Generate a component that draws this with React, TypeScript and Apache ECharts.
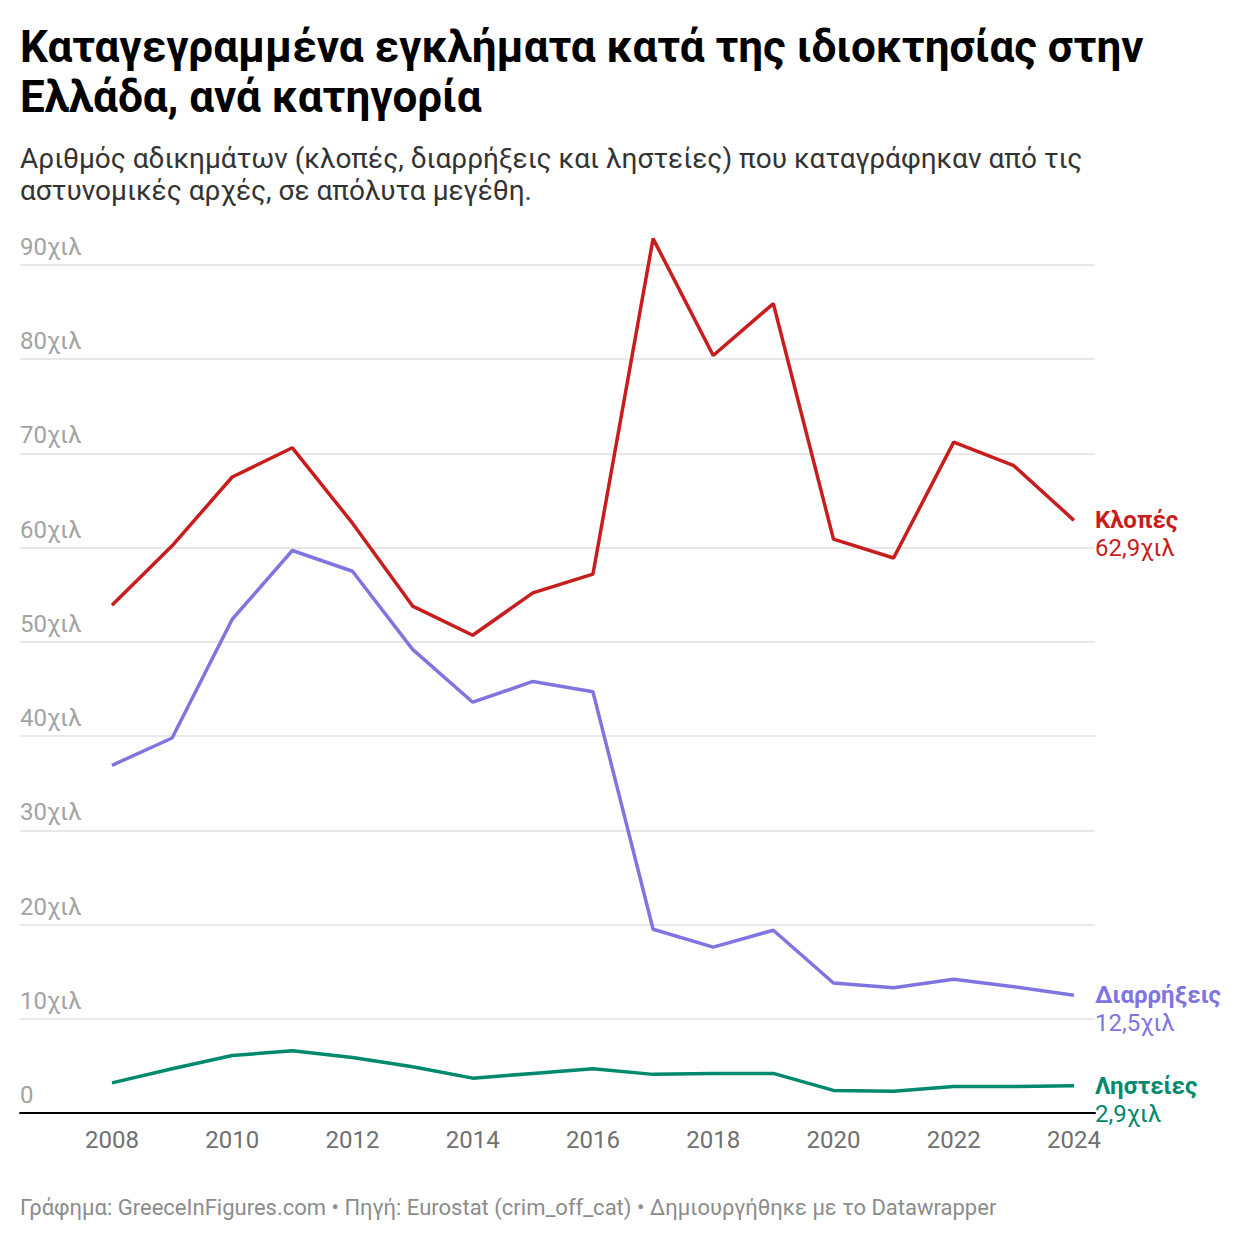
import React, { useEffect, useRef } from "react";
import * as echarts from "echarts";

const years = [2008, 2009, 2010, 2011, 2012, 2013, 2014, 2015, 2016, 2017, 2018, 2019, 2020, 2021, 2022, 2023, 2024];
const theft = [53.9, 60.2, 67.5, 70.6, 62.6, 53.8, 50.7, 55.2, 57.2, 92.8, 80.4, 85.9, 60.9, 58.9, 71.2, 68.7, 62.9];
const burglary = [36.9, 39.8, 52.4, 59.7, 57.5, 49.2, 43.6, 45.8, 44.7, 19.5, 17.6, 19.4, 13.8, 13.3, 14.2, 13.4, 12.5];
const robbery = [3.2, 4.7, 6.1, 6.6, 5.9, 4.9, 3.7, 4.2, 4.7, 4.1, 4.2, 4.2, 2.4, 2.3, 2.8, 2.8, 2.9];
const xTickYears = [2008, 2010, 2012, 2014, 2016, 2018, 2020, 2022, 2024];
const seriesNames = ["Κλοπές", "Διαρρήξεις", "Ληστείες"];
const seriesColors = ["#c71e1d", "#8075e0", "#00896d"];
const endValues = ["62,9χιλ", "12,5χιλ", "2,9χιλ"];

const titleText = "Καταγεγραμμένα εγκλήματα κατά της ιδιοκτησίας στην\nΕλλάδα, ανά κατηγορία";
const subtitleText = "Αριθμός αδικημάτων (κλοπές, διαρρήξεις και ληστείες) που καταγράφηκαν από τις\nαστυνομικές αρχές, σε απόλυτα μεγέθη.";
const footerText = "Γράφημα: GreeceInFigures.com • Πηγή: Eurostat (crim_off_cat) • Δημιουργήθηκε με το Datawrapper";

const FONT = "Roboto";

export default function App() {
  const ref = useRef<HTMLDivElement>(null);
  useEffect(() => {
    if (!ref.current) return;
    const chart = echarts.init(ref.current, undefined, { renderer: "svg" });
    const datasets = [theft, burglary, robbery];
    chart.setOption({
      animation: false,
      backgroundColor: "#ffffff",
      textStyle: { fontFamily: FONT },
      title: [
        {
          text: titleText,
          left: 20,
          top: 22,
          padding: 0,
          textStyle: { fontFamily: FONT, fontSize: 44, fontWeight: "bold", lineHeight: 50, color: "#000000" },
        },
        {
          text: subtitleText,
          left: 20,
          top: 142,
          padding: 0,
          textStyle: { fontFamily: FONT, fontSize: 28, fontWeight: "normal", lineHeight: 32, color: "#333333" },
        },
        {
          text: footerText,
          left: 20,
          top: 1195,
          padding: 0,
          textStyle: { fontFamily: FONT, fontSize: 22, fontWeight: "normal", lineHeight: 24, color: "#8c8c8c" },
        },
      ],
      grid: { left: 20, right: 145, top: 265, bottom: 127, containLabel: false },
      xAxis: {
        type: "value",
        min: 2006.47,
        max: 2024.35,
        axisLine: { show: true, lineStyle: { color: "#000000", width: 2 } },
        axisTick: { show: false },
        splitLine: { show: false },
        axisLabel: {
          customValues: xTickYears,
          formatter: (v: number) => String(v),
          fontFamily: FONT,
          fontSize: 24,
          color: "#707070",
          margin: 15,
        },
      },
      yAxis: {
        type: "value",
        min: 0,
        max: 90,
        interval: 10,
        axisLine: { show: false },
        axisTick: { show: false },
        splitLine: { show: true, lineStyle: { color: "#e0e0e0", width: 1.5 } },
        axisLabel: {
          inside: true,
          margin: 0,
          align: "left",
          verticalAlign: "bottom",
          padding: [0, 0, 6, 0],
          fontFamily: FONT,
          fontSize: 24,
          color: "#a3a3a3",
          formatter: (v: number) => (v === 0 ? "0" : v + "χιλ"),
        },
      },
      series: seriesNames.map((name, i) => ({
        name,
        type: "line",
        symbol: "none",
        clip: false,
        z: 10 - i,
        lineStyle: { color: seriesColors[i], width: 3.5 },
        itemStyle: { color: seriesColors[i] },
        data: years.map((y, j) => [y, datasets[i][j]]),
        endLabel: {
          show: true,
          distance: 21,
          offset: [0, 14],
          align: "left",
          formatter: () => `{a|${name}}\n{b|${endValues[i]}}`,
          rich: {
            a: { fontFamily: FONT, fontSize: 24, fontWeight: "bold", color: seriesColors[i], lineHeight: 28 },
            b: { fontFamily: FONT, fontSize: 24, fontWeight: "normal", color: seriesColors[i], lineHeight: 28 },
          },
        },
      })),
    });
    return () => chart.dispose();
  }, []);
  return (
    <div
      ref={ref}
      style={{ position: "fixed", left: 0, top: 0, width: 1240, height: 1240, background: "#fff" }}
    />
  );
}
